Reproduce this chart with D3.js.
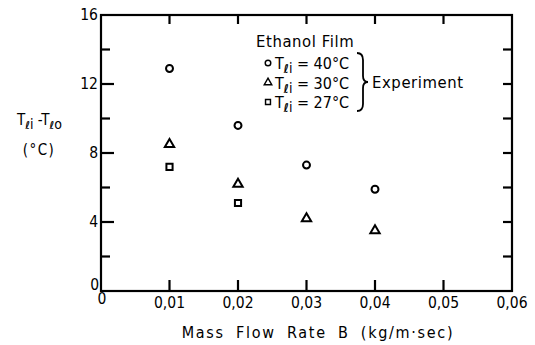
<!DOCTYPE html>
<html><head><meta charset="utf-8">
<script src="https://cdn.jsdelivr.net/npm/d3@7"></script>
<style>
html,body{margin:0;padding:0;background:#fff;}
svg text{font-family:"DejaVu Sans Condensed","DejaVu Sans",sans-serif;fill:#000;}
</style></head>
<body><svg id="c" width="535" height="345"></svg>
<script>
// ---- data ----
const massFlow = [0.01, 0.02, 0.03, 0.04];
const t40 = [12.9, 9.6, 7.3, 5.9];
const t30 = [8.5, 6.2, 4.2, 3.5];
const t27 = [7.2, 5.1];
const xTicks = [0, 0.01, 0.02, 0.03, 0.04, 0.05, 0.06];
const xTickLabels = ["0", "0,01", "0,02", "0,03", "0,04", "0,05", "0,06"];
const yTicks = [0, 4, 8, 12, 16];
const yMinorTicks = [2, 6, 10, 14];
const legendTitle = "Ethanol Film";
const legendTemps = ["40°C", "30°C", "27°C"];
const legendGroupLabel = "Experiment";

const svg = d3.select("#c");
const x = d3.scaleLinear().domain([0, 0.06]).range([101, 512]);
const y = d3.scaleLinear().domain([0, 16]).range([291, 15]);
const SW = 2.2;

// frame
svg.append("rect").attr("x", x(0)).attr("y", y(16))
  .attr("width", x(0.06) - x(0)).attr("height", y(0) - y(16))
  .attr("fill", "none").attr("stroke", "#000").attr("stroke-width", SW);

function ticks(g, data, x1, y1, x2, y2) {
  g.selectAll(null).data(data).join("line")
    .attr("x1", x1).attr("y1", y1).attr("x2", x2).attr("y2", y2)
    .attr("stroke", "#000").attr("stroke-width", SW);
}
const tg = svg.append("g");
const inner = xTicks.slice(1, 6);
ticks(tg, inner, d => x(d), y(0), d => x(d), y(0) - 11);
ticks(tg, inner, d => x(d), y(16), d => x(d), y(16) + 9);
ticks(tg, yTicks.slice(1, 4), x(0), d => y(d), x(0) + 13, d => y(d));
ticks(tg, yMinorTicks, x(0), d => y(d), x(0) + 9, d => y(d));
ticks(tg, yMinorTicks.concat(yTicks.slice(1, 4)), x(0.06), d => y(d), x(0.06) - 9, d => y(d));

// x tick labels
svg.append("g").selectAll("text").data(xTicks).join("text")
  .attr("x", (d, i) => i === 0 ? x(d) + 1 : x(d))
  .attr("y", (d, i) => i === 0 ? y(0) + 13 : y(0) + 17)
  .attr("text-anchor", "middle").attr("font-size", 15.5)
  .text((d, i) => xTickLabels[i]);
// y tick labels
svg.append("g").selectAll("text").data(yTicks).join("text")
  .attr("x", d => d === 0 ? x(0) - 2 : x(0) - 3)
  .attr("y", d => d === 0 ? y(d) - 1 : y(d) + 5)
  .attr("text-anchor", "end").attr("font-size", 15.5).text(d => d);

// markers
const circleSym = d3.symbol().type(d3.symbolCircle).size(38);
const triSym = d3.symbol().type(d3.symbolTriangle).size(38);
const sqSym = d3.symbol().type(d3.symbolSquare).size(38);
function plot(vals, sym) {
  svg.append("g").selectAll("path").data(vals).join("path")
    .attr("d", sym)
    .attr("transform", (d, i) => `translate(${x(massFlow[i])},${y(d)})`)
    .attr("fill", "none").attr("stroke", "#000").attr("stroke-width", 2);
}
plot(t40, circleSym);
plot(t30, triSym);
plot(t27, sqSym);

// legend
svg.append("text").attr("x", 256).attr("y", 47).attr("font-size", 16.5)
  .attr("letter-spacing", 0.6).text(legendTitle);
const syms = [circleSym, triSym, sqSym];
legendTemps.forEach((t, i) => {
  const ly = 63 + i * 19.5;
  svg.append("path").attr("d", syms[i])
    .attr("fill", "none").attr("stroke", "#000").attr("stroke-width", 1.8)
    .attr("transform", `translate(268,${ly}) scale(0.8)`);
  const tx = svg.append("text").attr("x", 275).attr("y", ly + 6).attr("font-size", 16);
  tx.append("tspan").text("T");
  tx.append("tspan").attr("dy", 4).attr("font-size", 12).attr("font-weight", "bold").text("ℓ");
  tx.append("tspan").attr("font-size", 14).text("i");
  tx.append("tspan").attr("dy", -4).text(" = " + t);
});
// brace
svg.append("path")
  .attr("d", "M357,53 Q363,53 363,60 L363,76 Q363,82 368,82 Q363,82 363,88 L363,104 Q363,111 357,111")
  .attr("fill", "none").attr("stroke", "#000").attr("stroke-width", 1.8);
svg.append("text").attr("x", 372).attr("y", 88).attr("font-size", 16.5)
  .attr("letter-spacing", 0.6).text(legendGroupLabel);

// y label
const yt = svg.append("text").attr("x", 17).attr("y", 125).attr("font-size", 15);
yt.append("tspan").text("T");
yt.append("tspan").attr("dy", 4).attr("font-size", 11).attr("font-weight", "bold").text("ℓ");
yt.append("tspan").attr("font-size", 14).text("i");
yt.append("tspan").attr("dy", -4).text(" -T");
yt.append("tspan").attr("dy", 4).attr("font-size", 11).attr("font-weight", "bold").text("ℓ");
yt.append("tspan").attr("font-size", 14).text("o");
svg.append("text").attr("x", 39).attr("y", 155).attr("text-anchor", "middle")
  .attr("font-size", 15).attr("letter-spacing", 1.5).attr("word-spacing", 2).text("(°C)");

// x label
svg.append("text").attr("x", 318).attr("y", 338).attr("text-anchor", "middle")
  .attr("font-size", 16).attr("letter-spacing", 1.7).attr("word-spacing", 5)
  .text("Mass Flow Rate B (kg/m·sec)");
</script></body></html>
